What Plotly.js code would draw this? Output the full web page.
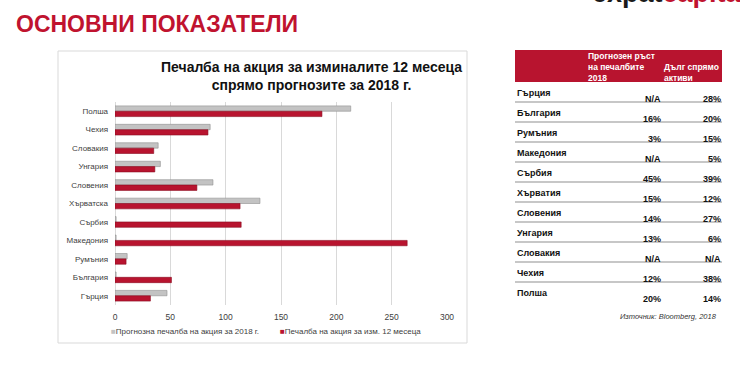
<!DOCTYPE html>
<html>
<head>
<meta charset="utf-8">
<script src="https://cdn.plot.ly/plotly-3.0.1.min.js"></script>
<style>html,body{margin:0;padding:0;background:#fff;}#chart{width:740px;height:372px;}</style>
</head>
<body>
<div id="chart"></div>
<script>
// ---- Chart data ----
const categories = ['Полша','Чехия','Словакия','Унгария','Словения','Хърватска','Сърбия','Македония','Румъния','България','Гърция'];
const forecastEPS = [213, 86, 39, 41, 88.5, 131, 1, 1, 11, 1, 47];
const trailingEPS = [187, 84, 35, 36, 74, 113, 114, 264, 10, 51, 32];
const seriesNames = ['Прогнозна печалба на акция за 2018 г.', 'Печалба на акция за изм. 12 месеца'];
const xTickVals = [0, 50, 100, 150, 200, 250, 300];

// ---- Table data ----
const tableCountries = ['Гърция','България','Румъния','Македония','Сърбия','Хърватия','Словения','Унгария','Словакия','Чехия','Полша'];
const growth2018 = ['N/A','16%','3%','N/A','45%','15%','14%','13%','N/A','12%','20%'];
const debtToAssets = ['28%','20%','15%','5%','39%','12%','27%','6%','N/A','38%','14%'];
const tableHeaders = ['Прогнозен ръст<br>на печалбите<br>2018', 'Дълг спрямо<br>активи'];

const pageTitle = 'ОСНОВНИ ПОКАЗАТЕЛИ';
const chartTitle = 'Печалба на акция за изминалите 12 месеца<br>спрямо прогнозите за 2018 г.';
const sourceText = 'Източник: Bloomberg, 2018';

const RED = '#b8142f', GREY = '#c3c3c3';
const FONT = 'Liberation Sans, Arial, sans-serif';

// plot area in pixels
const L = 115, R = 447, T = 102, B = 305, W = 740, H = 372;
const X = px => (px - L) / (R - L);
const Y = py => (B - py) / (B - T);

const traces = [
  {type: 'bar', orientation: 'h', y: categories, x: forecastEPS, name: seriesNames[0],
   marker: {color: GREY, line: {color: '#8e8e8e', width: 0.6}}, hoverinfo: 'x+y'},
  {type: 'bar', orientation: 'h', y: categories, x: trailingEPS, name: seriesNames[1],
   marker: {color: RED, line: {color: '#8a0c20', width: 0.6}}, hoverinfo: 'x+y'}
];

const shapes = [
  // chart frame
  {type: 'rect', xref: 'paper', yref: 'paper', x0: X(58), x1: X(467), y0: Y(343), y1: Y(51),
   line: {color: '#d9d9d9', width: 1}, fillcolor: 'rgba(0,0,0,0)', layer: 'below'},
  // table header band
  {type: 'rect', xref: 'paper', yref: 'paper', x0: X(515), x1: X(722), y0: Y(82), y1: Y(50),
   line: {width: 0}, fillcolor: RED}
];
for (let i = 0; i < tableCountries.length - 1; i++) {
  const py = 102 + 20 * i;
  shapes.push({type: 'line', xref: 'paper', yref: 'paper', x0: X(515), x1: X(722), y0: Y(py), y1: Y(py),
    line: {color: '#8f8f8f', width: 1}});
}

const annotations = [];
function ann(text, px, py, opts) {
  annotations.push(Object.assign({text: text, xref: 'paper', yref: 'paper', x: X(px), y: Y(py),
    showarrow: false, xanchor: 'left', yanchor: 'middle', font: {family: FONT, size: 9, color: '#000'}}, opts || {}));
}

// page title
ann('<b>' + pageTitle + '</b>', 14, 24, {font: {family: FONT, size: 23, color: '#c0132f'}});
// logo (cropped at the top edge, as in the reference)
ann('<b><span style="color:#1a1a1a">expat</span><span style="color:#c0132f">capital</span></b>', 590, -6.8,
  {font: {family: FONT, size: 27, color: '#1a1a1a'}});
// chart title
ann('<b>' + chartTitle + '</b>', 311, 75.5, {xanchor: 'center', align: 'center',
  font: {family: FONT, size: 14, color: '#111'}});

// legend (custom, small squares)
ann('<span style="color:' + GREY + '">■</span>' + seriesNames[0], 109, 331.5, {font: {family: FONT, size: 8, color: '#404040'}});
ann('<span style="color:' + RED + '">■</span>' + seriesNames[1], 278, 331.5, {font: {family: FONT, size: 8, color: '#404040'}});

// table header
ann('<b>' + tableHeaders[0] + '</b>', 586, 67.5, {align: 'left', font: {family: FONT, size: 8.5, color: '#fff'}});
ann('<b>' + tableHeaders[1] + '</b>', 662, 72.5, {align: 'left', font: {family: FONT, size: 8.5, color: '#fff'}});

// table rows
tableCountries.forEach((c, i) => {
  ann('<b>' + c + '</b>', 515, 93 + 20 * i, {font: {family: FONT, size: 9, color: '#111'}});
  ann('<b>' + growth2018[i] + '</b>', 663, 98.5 + 20 * i, {xanchor: 'right', font: {family: FONT, size: 9, color: '#111'}});
  ann('<b>' + debtToAssets[i] + '</b>', 723, 98.5 + 20 * i, {xanchor: 'right', font: {family: FONT, size: 9, color: '#111'}});
});

// source
ann('<i>' + sourceText + '</i>', 719, 316.5, {xanchor: 'right', font: {family: FONT, size: 7.5, color: '#333'}});

const layout = {
  width: W, height: H,
  margin: {l: L, r: W - R, t: T, b: H - B, pad: 0},
  paper_bgcolor: '#fff', plot_bgcolor: '#fff',
  showlegend: false,
  barmode: 'group', bargap: 0.42, bargroupgap: 0,
  font: {family: FONT, size: 8, color: '#404040'},
  xaxis: {range: [0, 300], tickvals: xTickVals, showgrid: true, gridcolor: '#d9d9d9', gridwidth: 1,
    zeroline: true, zerolinecolor: '#d9d9d9', showline: false, ticks: '', ticklabelstandoff: 5,
    tickfont: {family: FONT, size: 8.5, color: '#404040'}, fixedrange: true},
  yaxis: {type: 'category', autorange: 'reversed', showgrid: false, zeroline: false, showline: false,
    ticks: '', ticklabelstandoff: 6, tickfont: {family: FONT, size: 8, color: '#404040'}, fixedrange: true},
  shapes: shapes,
  annotations: annotations
};

Plotly.newPlot('chart', traces, layout, {displayModeBar: false, staticPlot: true});
</script>
</body>
</html>
